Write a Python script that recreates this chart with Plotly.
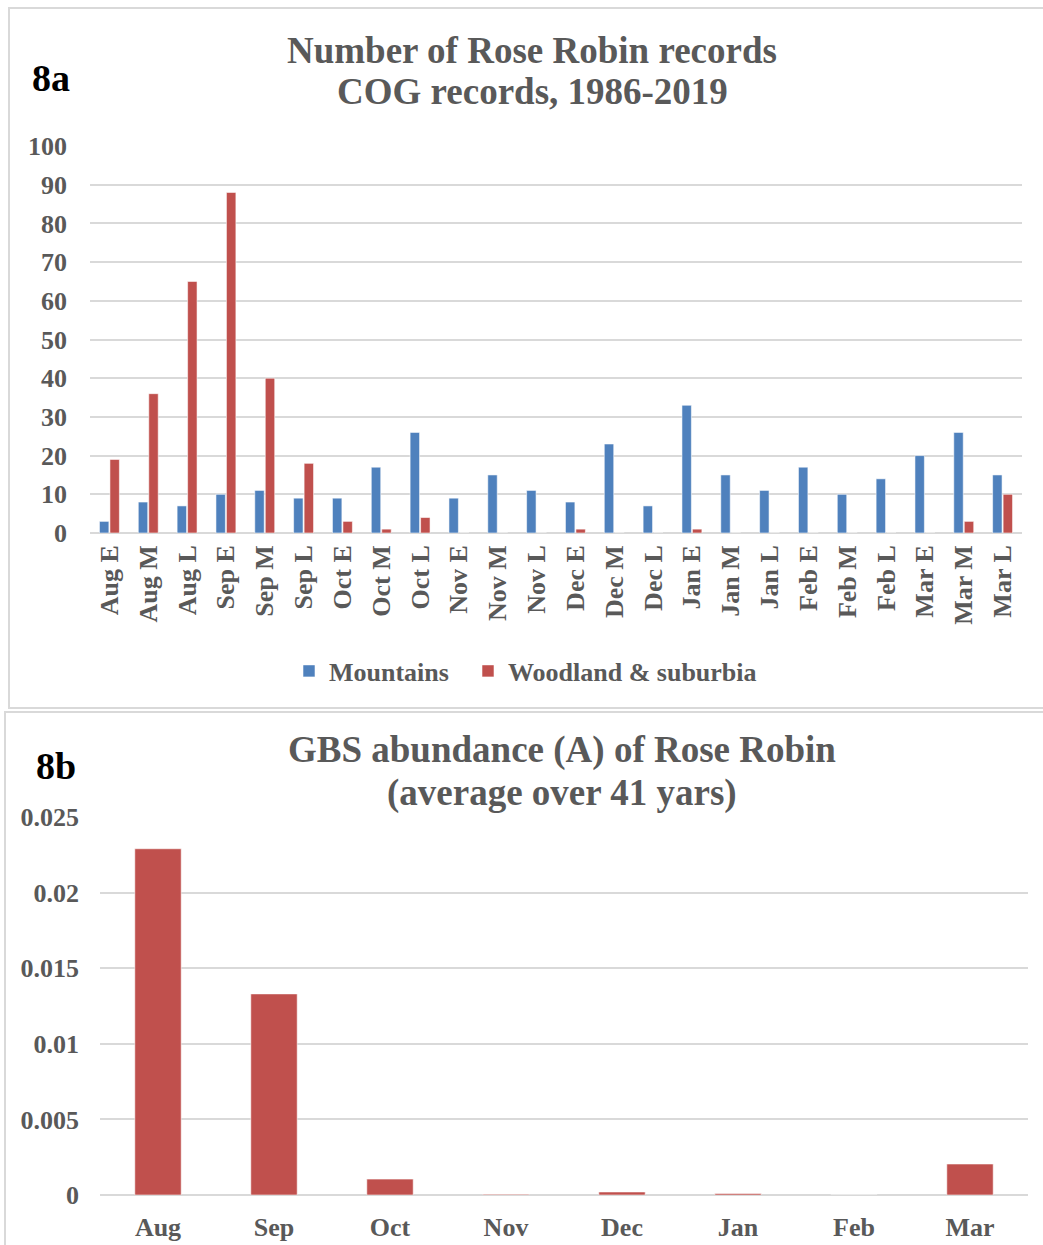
import plotly.graph_objects as go

# 8a: COG records per third of month
periods = ["Aug E", "Aug M", "Aug L", "Sep E", "Sep M", "Sep L", "Oct E", "Oct M", "Oct L",
           "Nov E", "Nov M", "Nov L", "Dec E", "Dec M", "Dec L", "Jan E", "Jan M", "Jan L",
           "Feb E", "Feb M", "Feb L", "Mar E", "Mar M", "Mar L"]
mountains = [3, 8, 7, 10, 11, 9, 9, 17, 26, 9, 15, 11, 8, 23, 7, 33, 15, 11, 17, 10, 14, 20, 26, 15]
woodland = [19, 36, 65, 88, 40, 18, 3, 1, 4, 0, 0, 0, 1, 0, 0, 1, 0, 0, 0, 0, 0, 0, 3, 10]
ticks_a = [0, 10, 20, 30, 40, 50, 60, 70, 80, 90, 100]

# 8b: GBS abundance by month
months = ["Aug", "Sep", "Oct", "Nov", "Dec", "Jan", "Feb", "Mar"]
abundance = [0.0229, 0.0133, 0.00105, 0.00005, 0.0002, 0.0001, 0.0, 0.00205]
ticks_b = [0, 0.005, 0.01, 0.015, 0.02, 0.025]
ticks_b_text = ["0", "0.005", "0.01", "0.015", "0.02", "0.025"]

W, H = 1043, 1245
BLUE = "#4F81BD"
RED = "#C0504D"
GREY = "#595959"
GRID = "#D9D9D9"
FONT = "Liberation Serif"

def px(x):
    return x / W

def py(y):
    return (H - y) / H

fig = go.Figure()
edge = dict(color="rgba(255,255,255,0.55)", width=1)

fig.add_trace(go.Bar(x=periods, y=mountains, name="Mountains", marker=dict(color=BLUE, line=edge),
                     xaxis="x", yaxis="y", legend="legend"))
fig.add_trace(go.Bar(x=periods, y=woodland, name="Woodland & suburbia", marker=dict(color=RED, line=edge),
                     xaxis="x", yaxis="y", legend="legend2"))
fig.add_trace(go.Bar(x=months, y=abundance, name="GBS", showlegend=False,
                     marker=dict(color=RED, line=edge), width=0.4,
                     xaxis="x2", yaxis="y2"))

def bold(size, color=GREY):
    return dict(family=FONT, size=size, color=color, weight="bold")

legend_style = dict(orientation="h", xanchor="left", y=py(671), yanchor="middle",
                    font=bold(26), bgcolor="rgba(0,0,0,0)")

fig.update_layout(
    width=W, height=H,
    margin=dict(l=0, r=0, t=0, b=0, autoexpand=False),
    paper_bgcolor="white", plot_bgcolor="white",
    barmode="group", bargap=0.46, bargroupgap=0.1,
    font=dict(family=FONT, color=GREY),
    showlegend=True,
    legend=dict(x=px(289), **legend_style),
    legend2=dict(x=px(468), **legend_style),
    xaxis=dict(domain=[px(90), px(1022)], tickangle=-90, showgrid=False, showline=False,
               ticks="", tickfont=bold(26), ticklabelstandoff=6,
               anchor="y", fixedrange=True),
    yaxis=dict(domain=[py(533), py(146)], range=[0, 100], tickvals=ticks_a,
               showgrid=True, gridcolor=GRID, gridwidth=2, zeroline=True,
               zerolinecolor=GRID, zerolinewidth=2, showline=False, ticks="",
               tickfont=bold(26), ticklabelstandoff=22,
               anchor="x", fixedrange=True),
    xaxis2=dict(domain=[px(100), px(1028)], showgrid=False, showline=False, ticks="",
                tickfont=bold(26), ticklabelstandoff=14,
                anchor="y2", fixedrange=True),
    yaxis2=dict(domain=[py(1195), py(817)], range=[0, 0.025], tickvals=ticks_b,
                ticktext=ticks_b_text, showgrid=True, gridcolor=GRID, gridwidth=2,
                zeroline=True, zerolinecolor=GRID, zerolinewidth=2, showline=False,
                ticks="", tickfont=bold(26), ticklabelstandoff=20,
                anchor="x2", fixedrange=True),
)

# Panel frames
fig.add_shape(type="rect", xref="paper", yref="paper", x0=px(9), x1=px(1045), y0=py(708), y1=py(8),
              line=dict(color="#D9D9D9", width=2), fillcolor="rgba(0,0,0,0)", layer="below")
fig.add_shape(type="rect", xref="paper", yref="paper", x0=px(5), x1=px(1045), y0=py(1247), y1=py(712),
              line=dict(color="#D9D9D9", width=2), fillcolor="rgba(0,0,0,0)", layer="below")

def text(s, x, y, font):
    fig.add_annotation(text=s, xref="paper", yref="paper", x=px(x), y=py(y), xanchor="center",
                       yanchor="middle", showarrow=False, font=font)

title_font = bold(37)
text("Number of Rose Robin records", 532, 50, title_font)
text("COG records, 1986-2019", 532, 92, title_font)
text("GBS abundance (A) of Rose Robin", 562, 750, title_font)
text("(average over 41 yars)", 562, 793, title_font)
text("8a", 51, 78, bold(38, "black"))
text("8b", 56, 766, bold(38, "black"))

fig.write_html("out.html")
